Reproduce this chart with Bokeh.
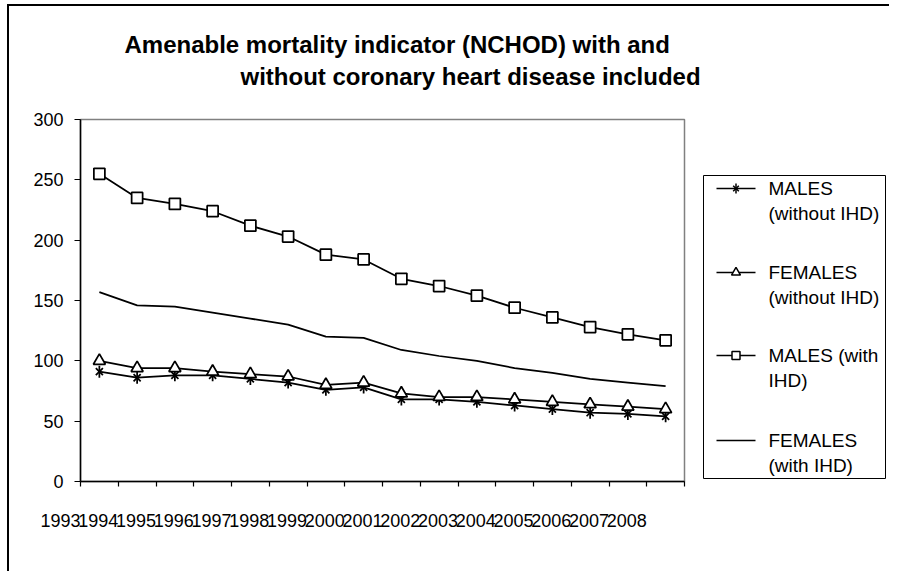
import math
from bokeh.plotting import figure
from bokeh.layouts import column, row
from bokeh.models import Range1d, FixedTicker
from bokeh.core.properties import value
from bokeh.embed import file_html
from bokeh.resources import INLINE

# ---- data ----
years = ["1993", "1994", "1995", "1996", "1997", "1998", "1999", "2000",
         "2001", "2002", "2003", "2004", "2005", "2006", "2007", "2008"]
males_without = [91, 86, 88, 88, 85, 82, 76, 78, 68, 68, 66, 63, 60, 57, 56, 54]
females_without = [100, 94, 94, 91, 89, 87, 80, 82, 73, 70, 70, 68, 66, 64, 62, 60]
males_with = [255, 235, 230, 224, 212, 203, 188, 184, 168, 162, 154, 144, 136, 128, 122, 117]
females_with = [157, 146, 145, 140, 135, 130, 120, 119, 109, 104, 100, 94, 90, 85, 82, 79]
y_ticks = [0, 50, 100, 150, 200, 250, 300]
title_lines = ["Amenable mortality indicator (NCHOD) with and",
               "without coronary heart disease included"]
legend_lines = [["MALES", "(without IHD)"], ["FEMALES", "(without IHD)"],
                ["MALES (with", "IHD)"], ["FEMALES", "(with IHD)"]]

n = len(years)
x_pts = [i + 0.5 for i in range(n)]

FONT = "Liberation Sans"
OX, OY = 9, 6                 # content origin on the page (after margin + border)
W, H = 880, 565
TOP_H = 100
FRAME_L, FRAME_T, FRAME_R, FRAME_B = 80, 119, 684, 481   # page px
MAIN_W = FRAME_R + 10 - OX
LEG_W = W - MAIN_W
BODY_H = H - TOP_H
BT = FRAME_T - OY - TOP_H
BB = BODY_H - BT - (FRAME_B - FRAME_T)


def blank(width, height, x0, x1, y_top, y_bot):
    f = figure(width=width, height=height, x_range=Range1d(x0, x1),
               y_range=Range1d(y_bot, y_top), min_border=0, x_axis_location=None,
               y_axis_location=None, output_backend="svg", toolbar_location=None)
    f.outline_line_color = None
    f.grid.visible = False
    f.background_fill_color = "white"
    f.border_fill_color = "white"
    return f


# ---- title strip (page coordinates) ----
t = blank(W, TOP_H, OX, OX + W, OY, OY + TOP_H)
t.text(x=[124, 240], y=[44, 76], text=title_lines, text_font=value(FONT),
       text_font_style="bold", text_font_size="24px", text_baseline="alphabetic",
       text_align="left", text_color="black")

# ---- main plot ----
p = figure(width=MAIN_W, height=BODY_H, x_range=Range1d(0, n), y_range=Range1d(0, 300),
           output_backend="svg", toolbar_location=None,
           min_border_left=FRAME_L - OX, min_border_right=OX + MAIN_W - FRAME_R,
           min_border_top=BT, min_border_bottom=BB)
p.xgrid.visible = False
p.ygrid.visible = False
p.outline_line_color = "#808080"
p.outline_line_width = 1.5
p.background_fill_color = "white"
p.border_fill_color = "white"

ya = p.yaxis[0]
ya.ticker = FixedTicker(ticks=y_ticks)
ya.major_tick_out = 6
ya.major_tick_in = 0
ya.minor_tick_out = 0
ya.minor_tick_in = 0
ya.axis_line_width = 1.5
ya.major_tick_line_width = 1.2
ya.major_label_standoff = 11
ya.major_label_text_font = FONT
ya.major_label_text_font_size = "18px"
ya.major_label_text_color = "black"

xa = p.xaxis[0]
xa.ticker = FixedTicker(ticks=list(range(n + 1)))
xa.major_tick_out = 5
xa.major_tick_in = 0
xa.minor_tick_out = 0
xa.minor_tick_in = 0
xa.axis_line_width = 1.5
xa.major_tick_line_width = 1.2
# each year label ends at its tick (trailing no-break spaces as wide as the year)
overrides = {i: years[i] + "\u00a0" * 8 for i in range(n)}
overrides[n] = ""
xa.major_label_overrides = overrides
xa.major_label_standoff = 24
xa.major_label_text_font = FONT
xa.major_label_text_font_size = "18px"
xa.major_label_text_color = "black"

lw = 1.75
p.line(x_pts, males_without, line_color="black", line_width=lw)
p.scatter(x_pts, males_without, marker="x", size=10, line_color="black", line_width=lw)
p.scatter(x_pts, males_without, marker="dash", angle=math.pi / 2, size=12,
          line_color="black", line_width=lw)
p.line(x_pts, females_without, line_color="black", line_width=lw)
p.scatter(x_pts, females_without, marker="triangle", size=12, fill_color="white",
          line_color="black", line_width=lw)
p.line(x_pts, males_with, line_color="black", line_width=lw)
p.scatter(x_pts, males_with, marker="square", size=11, fill_color="white",
          line_color="black", line_width=lw)
p.line(x_pts, females_with, line_color="black", line_width=lw)

# ---- legend (page coordinates; its frame is aligned with the plot frame) ----
lg = blank(LEG_W, BODY_H, OX + MAIN_W, OX + W, FRAME_T, FRAME_B)
lg.quad(left=[703], right=[885], top=[175], bottom=[478], fill_color="white",
        line_color="black", line_width=1)
rows_y = [188, 272, 355, 440]
line_gap = 25
gx0, gx1, gxm = 716, 755, 735.5
lg.segment(x0=[gx0] * 4, x1=[gx1] * 4, y0=rows_y, y1=rows_y, line_color="black", line_width=1.5)
lg.scatter([gxm], [rows_y[0]], marker="x", size=8, line_color="black", line_width=1.5)
lg.scatter([gxm], [rows_y[0]], marker="dash", angle=math.pi / 2, size=10,
           line_color="black", line_width=1.5)
lg.scatter([gxm], [rows_y[1]], marker="triangle", size=9, fill_color="white",
           line_color="black", line_width=1.5)
lg.scatter([gxm], [rows_y[2]], marker="square", size=8, fill_color="white",
           line_color="black", line_width=1.5)
tx, ty, tt = [], [], []
for ry, lines in zip(rows_y, legend_lines):
    for k, ln in enumerate(lines):
        tx.append(768)
        ty.append(ry + k * line_gap)
        tt.append(ln)
lg.text(x=tx, y=ty, text=tt, text_font=value(FONT), text_font_size="19px",
        text_baseline="middle", text_align="left", text_color="black")

layout = column(t, row(p, lg), styles={"margin-left": "7px", "margin-top": "4px",
                                       "border-left": "2px solid #000",
                                       "border-top": "2px solid #000"})
open("out.html", "w").write(file_html(layout, INLINE))
